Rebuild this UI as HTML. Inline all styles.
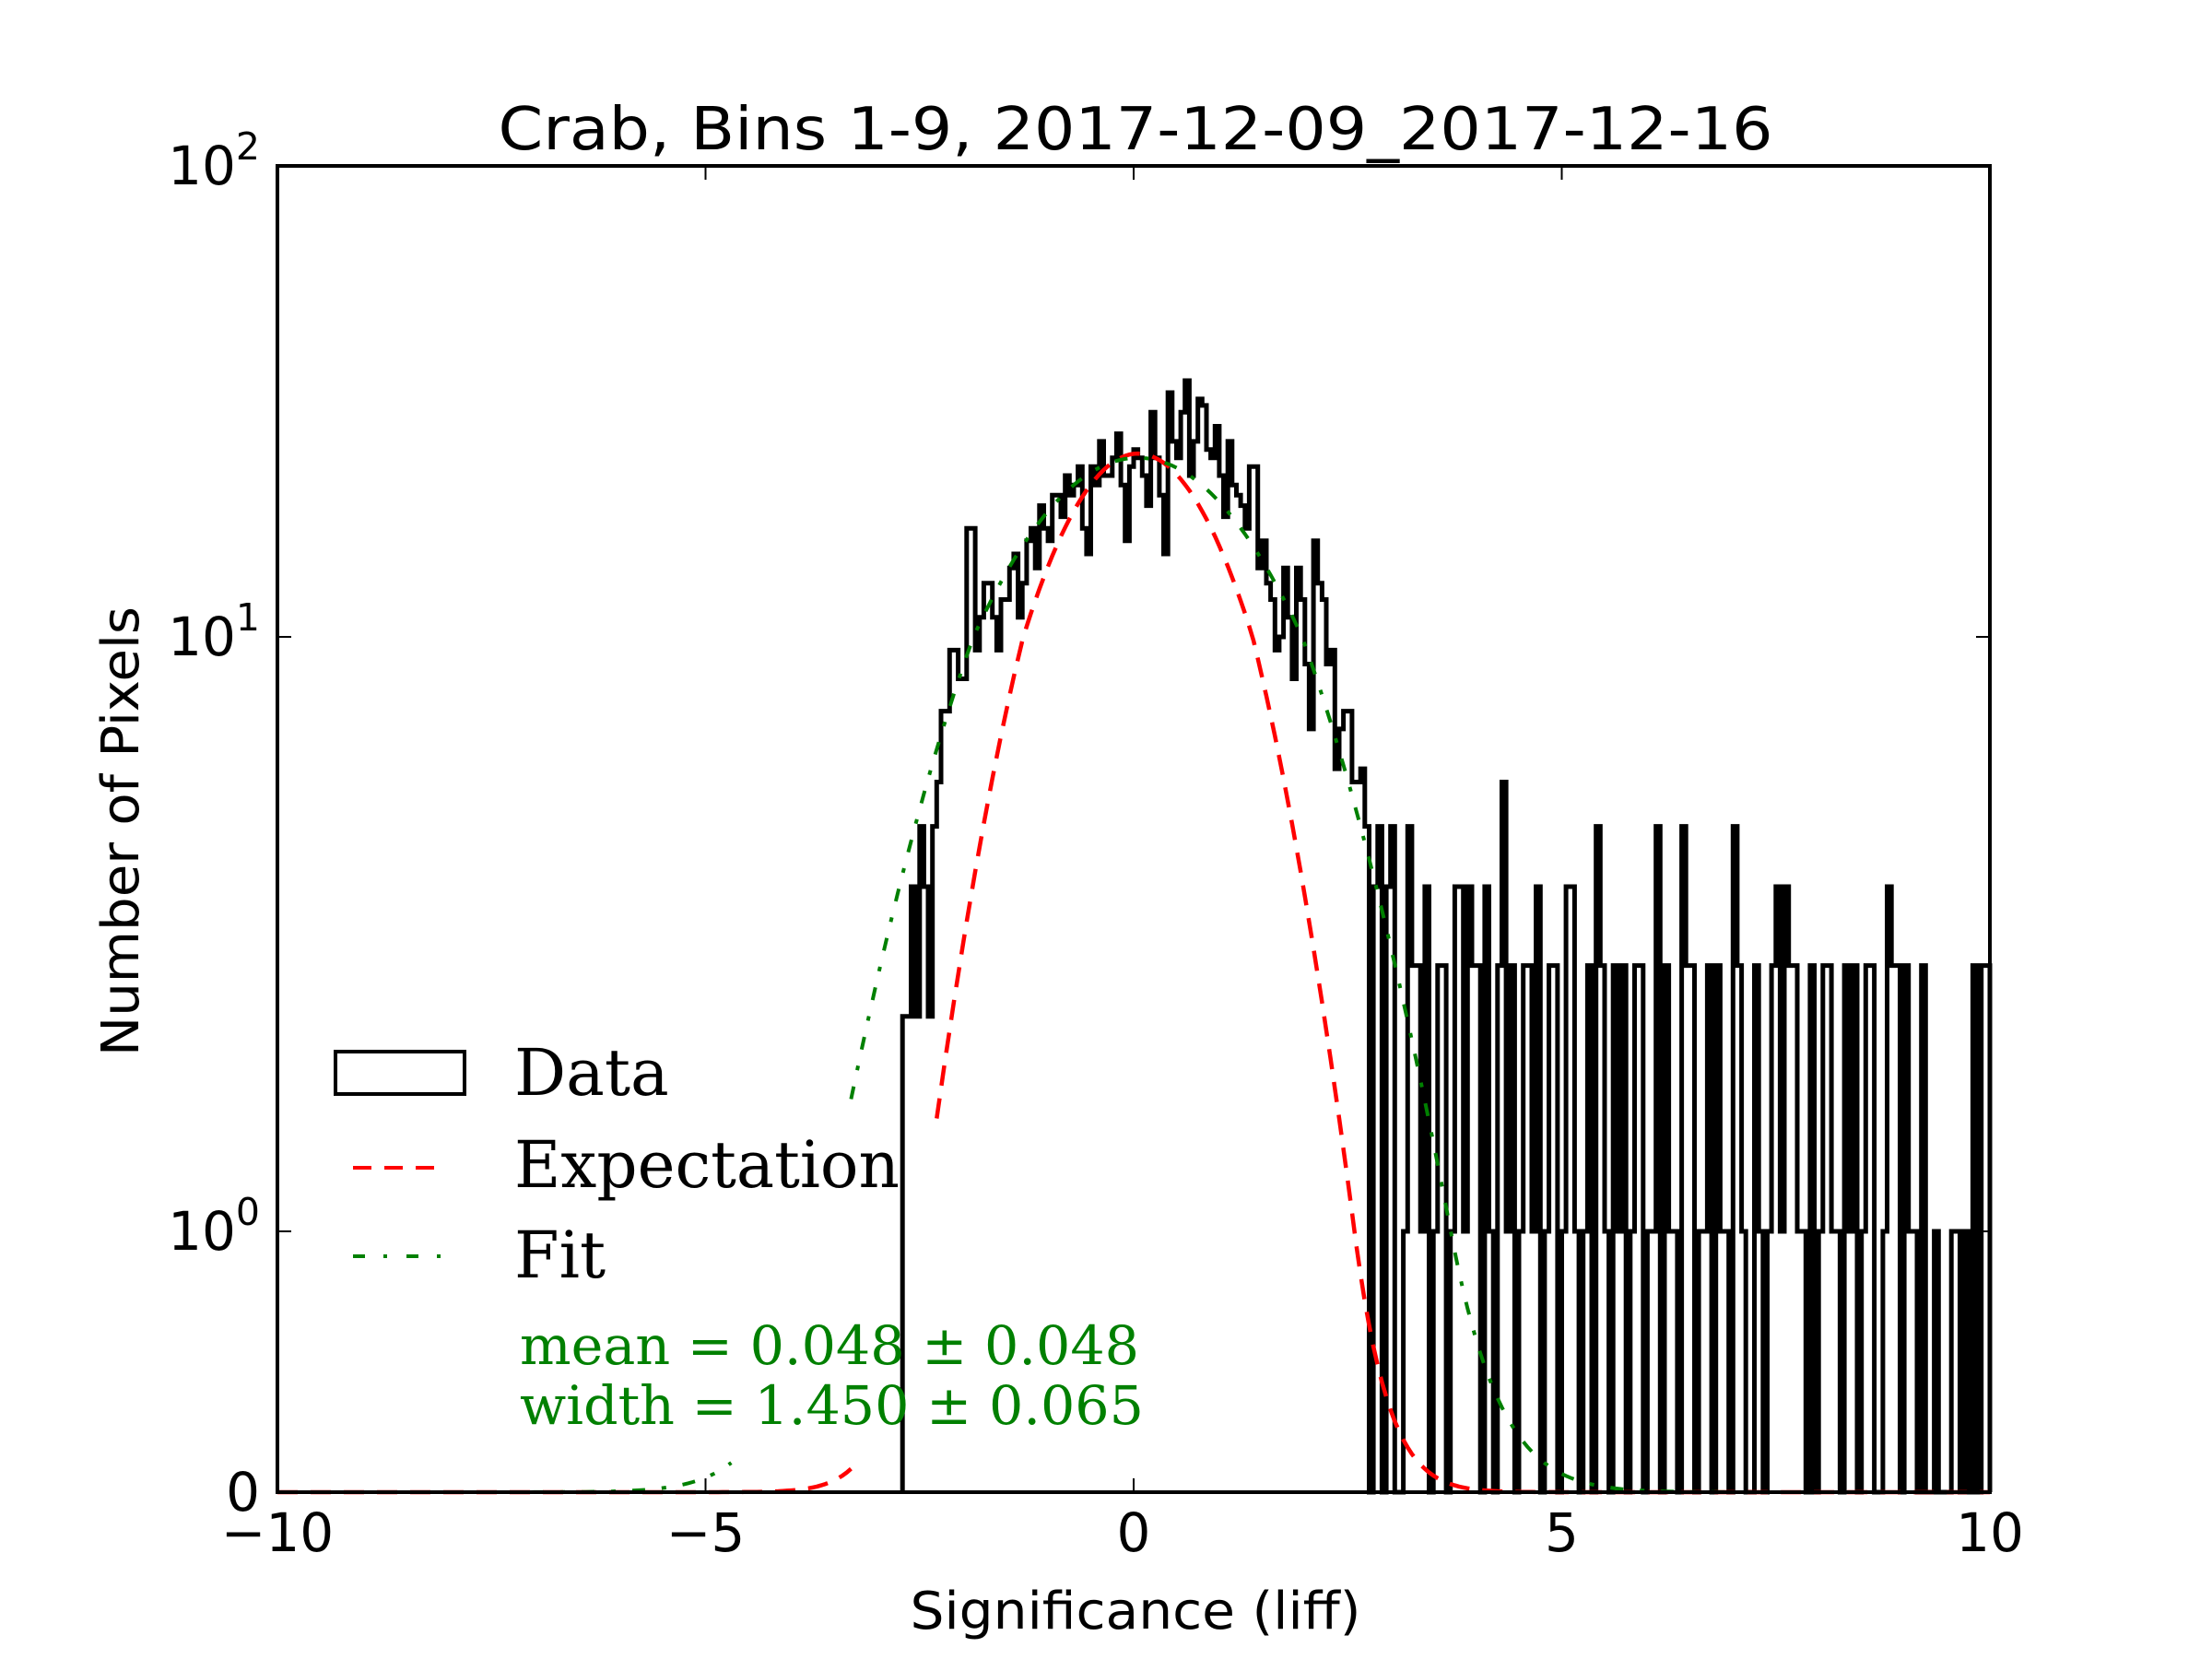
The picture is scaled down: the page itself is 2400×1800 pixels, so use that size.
<!DOCTYPE html>
<html><head><meta charset="utf-8"><style>
html,body{margin:0;padding:0;background:#fff;}
svg{display:block;}
text{font-family:"DejaVu Sans","Liberation Sans",sans-serif;}
.serif{font-family:"DejaVu Serif","Liberation Serif",serif;}
</style></head><body>
<svg id="chart" width="2400" height="1800" viewBox="0 0 2400 1800" xmlns="http://www.w3.org/2000/svg">
<rect x="0" y="0" width="2400" height="1800" fill="#fff"/>
<text x="1232" y="162" font-size="64" text-anchor="middle" textLength="1383" lengthAdjust="spacingAndGlyphs">Crab, Bins 1-9, 2017-12-09_2017-12-16</text>
<g id="plot"></g>
<rect x="301" y="180" width="1858" height="1439" fill="none" stroke="#000" stroke-width="4"/>
<g id="ticks"></g>
<text x="1232" y="1767" font-size="56" text-anchor="middle" textLength="489" lengthAdjust="spacingAndGlyphs">Significance (liff)</text>
<text transform="translate(150,902) rotate(-90)" font-size="56" text-anchor="middle" textLength="488" lengthAdjust="spacingAndGlyphs">Number of Pixels</text>
<g>
  <rect x="364" y="1141" width="140" height="46" fill="none" stroke="#000" stroke-width="4"/>
  <text class="serif" x="558" y="1188" font-size="70">Data</text>
  <line x1="383" y1="1267" x2="480" y2="1267" stroke="#f00" stroke-width="4" stroke-dasharray="20 14"/>
  <text class="serif" x="558" y="1288" font-size="70" textLength="418" lengthAdjust="spacingAndGlyphs">Expectation</text>
  <line x1="383" y1="1363" x2="480" y2="1363" stroke="#008000" stroke-width="4" stroke-dasharray="13 20 4 21"/>
  <text class="serif" x="558" y="1386" font-size="70">Fit</text>
</g>
<text class="serif" x="564" y="1480" font-size="58" fill="#008000" textLength="672" lengthAdjust="spacingAndGlyphs">mean = 0.048 ± 0.048</text>
<text class="serif" x="564" y="1545" font-size="58" fill="#008000" textLength="677" lengthAdjust="spacingAndGlyphs">width = 1.450 ± 0.065</text>
</svg>
<script>
const binStart = -2.7;
const binWidth = 0.05;
const counts = [
2.3,2.3, 3.8,2.3, 4.8,3.8, 2.3,4.8, 5.7,7.5, 7.5,9.5, 9.5,8.5, 8.5,17, 17,9.5, 11,13,
13,11, 9.5,12, 12,14, 15,11, 13,16, 17,14, 19,17, 16,20, 20,18, 22,20,
21,23, 17,15, 23,21, 26,22, 22,24, 27,21, 16,23, 25,24, 22,19, 30,24,
20,15, 33,26, 24,30, 35,22, 26,32, 31,25, 24,28, 22,18, 26,21, 20,19,
17,23, 23,14, 16,13, 12,9.5, 10,14, 11,8.5, 14,12, 9,7, 16,13, 12,9,
9.5,6, 7,7.5, 7.5,5.7, 5.7,6,
4.8,0, 3.8,4.8, 0,3.8, 4.8,0, 0,1, 4.8,2.8, 2.8,1, 3.8,0, 1,2.8, 2.8,0,
1,3.8, 3.8,1, 3.8,2.8, 2.8,0, 3.8,1, 0,2.8, 5.7,1, 2.8,0, 1,2.8, 2.8,1,
3.8,0, 1,2.8, 2.8,0, 1,3.8, 3.8,1, 0,1, 2.8,0, 4.8,2.8, 1,0, 2.8,1,
2.8,0, 1,2.8, 2.8,0, 1,1, 4.8,0, 2.8,1, 1,0, 4.8,2.8, 2.8,0, 1,1,
2.8,0, 2.8,1, 1,0, 4.8,2.8, 1,0, 0,2.8, 1,0, 1,2.8, 3.8,1, 3.8,2.8,
2.8,1, 1,0, 2.8,0, 1,2.8, 2.8,1, 1,0, 2.8,1, 2.8,0, 1,2.8, 2.8,0,
0,1, 3.8,2.8, 2.8,0, 2.8,1, 1,0, 2.8,0, 0,1, 0,0, 0,1, 1,0,
1,0, 2.8,0, 2.8,2.8
];
const expAmp = 24.5, expMean = 0.05, expSigma = 1.0;
const fitAmp = 24, fitMean = 0.048, fitSigma = 1.45;
const expSegments = [[-10, -3.3], [-2.3, 10]];
const fitSegments = [[-10, -4.7], [-3.3, 10]];
const xTicks = [-10, -5, 0, 5, 10];
const xTickLabels = ["\u221210", "\u22125", "0", "5", "10"];
const yTicks = [0, 1, 10, 100];
const yTickExp = ["", "0", "1", "2"];

const NS = "http://www.w3.org/2000/svg";
function X(v){ return 301 + (v + 10) / 20 * 1858; }
function Y(v){
  if (v <= 1) return 1619 - v * (1619 - 1336);
  if (v <= 10) return 1336 - Math.log10(v) * 645;
  return 691 - (Math.log10(v) - 1) * 511;
}
const plot = document.getElementById('plot');
const ticks = document.getElementById('ticks');

function curvePath(amp, mu, sig, segs){
  let d = "";
  segs.forEach(s => {
    for (let i = 0; ; i++) {
      let x = s[0] + i * 0.05;
      if (x > s[1]) x = s[1];
      const v = amp * Math.exp(-(x - mu) * (x - mu) / (2 * sig * sig));
      d += (i === 0 ? "M" : "L") + X(x).toFixed(1) + " " + Y(v).toFixed(1) + " ";
      if (x >= s[1]) break;
    }
  });
  return d;
}

let d = "M" + X(binStart).toFixed(1) + " " + Y(0);
counts.forEach((c, i) => {
  const x0 = binStart + i * binWidth;
  d += " L" + X(x0).toFixed(1) + " " + Y(c).toFixed(1) + " L" + X(x0 + binWidth).toFixed(1) + " " + Y(c).toFixed(1);
});
d += " L" + X(binStart + counts.length * binWidth).toFixed(1) + " " + Y(0);
const hist = document.createElementNS(NS, 'path');


hist.setAttribute('d', d);
hist.setAttribute('fill', 'none');
hist.setAttribute('stroke', '#000');
hist.setAttribute('stroke-width', '5');
plot.appendChild(hist);

const expPath = document.createElementNS(NS, 'path');


expPath.setAttribute('d', curvePath(expAmp, expMean, expSigma, expSegments));
expPath.setAttribute('fill', 'none');
expPath.setAttribute('stroke', '#f00');
expPath.setAttribute('stroke-width', '4.5');
expPath.setAttribute('stroke-dasharray', '22 14');
plot.appendChild(expPath);

const fitPath = document.createElementNS(NS, 'path');


fitPath.setAttribute('d', curvePath(fitAmp, fitMean, fitSigma, fitSegments));
fitPath.setAttribute('fill', 'none');
fitPath.setAttribute('stroke', '#008000');
fitPath.setAttribute('stroke-width', '4');
fitPath.setAttribute('stroke-dasharray', '14 18 5 18');
plot.appendChild(fitPath);

xTicks.forEach((t, i) => {
  const x = X(t);
  const tk = document.createElementNS(NS, 'path');
  
  
  tk.setAttribute('d', `M${x} 1619 V1604 M${x} 180 V195`);
  tk.setAttribute('stroke', '#000');
  tk.setAttribute('stroke-width', '2');
  ticks.appendChild(tk);
  const lb = document.createElementNS(NS, 'text');
  
  
  lb.setAttribute('x', x);
  lb.setAttribute('y', 1683);
  lb.setAttribute('font-size', '58');
  lb.setAttribute('text-anchor', 'middle');
  lb.textContent = xTickLabels[i];
  ticks.appendChild(lb);
});
yTicks.forEach((t, i) => {
  const y = Y(t);
  const tk = document.createElementNS(NS, 'path');
  
  
  tk.setAttribute('d', `M301 ${y} H316 M2159 ${y} H2144`);
  tk.setAttribute('stroke', '#000');
  tk.setAttribute('stroke-width', '2');
  ticks.appendChild(tk);
  const lb = document.createElementNS(NS, 'text');
  
  
  lb.setAttribute('x', 282);
  lb.setAttribute('y', y + 20);
  lb.setAttribute('font-size', '58');
  lb.setAttribute('text-anchor', 'end');
  if (yTickExp[i] === "") {
    lb.textContent = String(t);
  } else {
    const b = document.createElementNS(NS, 'tspan');
    b.textContent = "10";
    const s = document.createElementNS(NS, 'tspan');
    s.setAttribute('font-size', '41');
    s.setAttribute('dy', '-27');
    s.textContent = yTickExp[i];
    lb.appendChild(b);
    lb.appendChild(s);
  }
  ticks.appendChild(lb);
});
</script>
</body></html>
